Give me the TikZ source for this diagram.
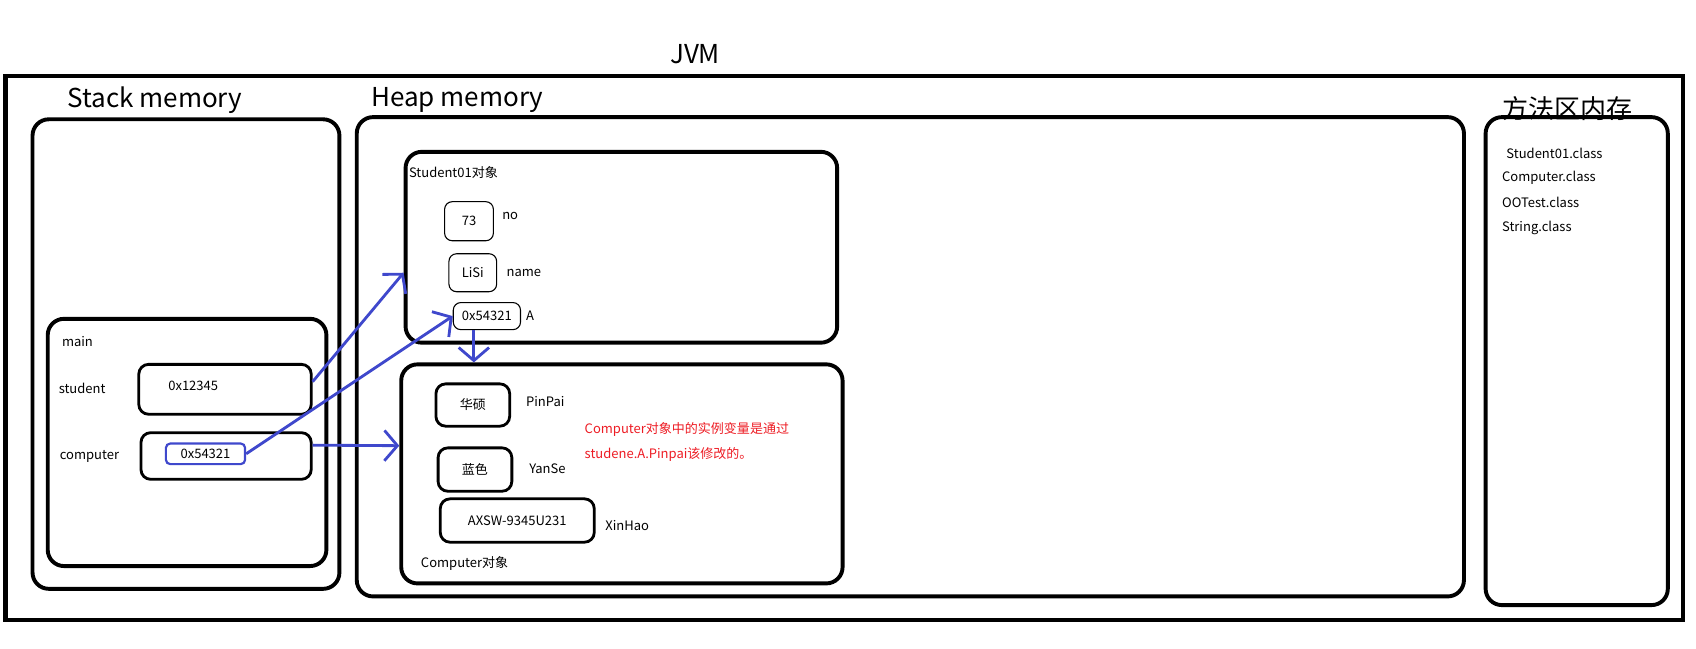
\documentclass[tikz,border=0pt]{standalone}
\usepackage{fontspec}
\setmainfont{Noto Sans CJK SC}
\usepackage{xcolor}
\usetikzlibrary{positioning,arrows.meta}
\definecolor{paintblue}{RGB}{63,72,204}
\definecolor{paintred}{RGB}{237,28,36}

\tikzset{
  jvmframe/.style={draw, line width=4pt, minimum width=1547pt, minimum height=502pt},
  area/.style={draw, line width=3.6pt, rounded corners=15pt, inner sep=0pt},
  cell/.style={draw, line width=1pt, rounded corners=7pt, inner sep=0pt, font=\fontsize{12}{14}\selectfont},
  fatcell/.style={draw, line width=2.6pt, rounded corners=9pt, inner sep=0pt, font=\fontsize{12}{14}\selectfont},
  txt/.style={anchor=west, inner sep=0pt, font=\fontsize{12}{14}\selectfont},
  title/.style={anchor=west, inner sep=0pt, font=\fontsize{24}{28}\selectfont},
  ref/.style={paintblue, line width=2.6pt, -{Straight Barb[length=12pt,width=28pt]}}
}

\begin{document}
\begin{tikzpicture}[x=1pt, y=-1pt]
\useasboundingbox (0,0) rectangle (1564,598);

\node[font=\fontsize{24}{28}\selectfont] (jvm) at (641,50) {JVM};
\node[jvmframe] (frame) at (778.5,321) {};

\node[title] (stacktitle) at (62,92) {Stack memory};
\node[title] (heaptitle) at (342,92) {Heap memory};
\node[title] (methodtitle) at (1385,100) {方法区内存};

\node[area, minimum width=283pt, minimum height=433pt] (stack) at (171.5,326.5) {};
\node[area, minimum width=1021pt, minimum height=442pt] (heap) at (839.5,329) {};
\node[area, minimum width=168pt, minimum height=450pt] (method) at (1454,333) {};

% method area
\node[txt] (cls1) at (1389,141) {Student01.class};
\node[txt] (cls2) at (1385,164) {Computer.class};
\node[txt] (cls3) at (1385,187) {OOTest.class};
\node[txt] (cls4) at (1385,210) {String.class};

% stack frame of main
\node[area, minimum width=257pt, minimum height=228pt] (main) at (172.5,408) {};
\node[txt] (maintxt) at (57,315) {main};
\node[txt] (stuvar) at (54,358) {student};
\node[txt] (compvar) at (55,421) {computer};
\node[fatcell, minimum width=159pt, minimum height=46pt] (sturef) at (207.5,359) {};
\node[txt] (stuaddr) at (155,356) {0x12345};
\node[fatcell, minimum width=157pt, minimum height=43pt] (compref) at (208.5,420.5) {};
\node[draw=paintblue, line width=2pt, rounded corners=4pt, minimum width=73pt, minimum height=19pt,
      inner sep=0pt, font=\fontsize{12}{14}\selectfont] (compaddr) at (189.5,418.5) {0x54321};

% Student01 object
\node[area, minimum width=398pt, minimum height=176pt] (stuobj) at (573,228) {};
\node[txt] (stuobjtxt) at (377,159) {Student01对象};
\node[cell, minimum width=45pt, minimum height=36pt] (valno) at (432.5,204) {73};
\node[txt] (no) at (463,199) {no};
\node[cell, minimum width=44pt, minimum height=35pt] (valname) at (436,251.5) {LiSi};
\node[txt] (name) at (467,252) {name};
\node[cell, minimum width=62pt, minimum height=25pt] (valA) at (449,291.5) {0x54321};
\node[txt] (A) at (485,291) {A};

% Computer object
\node[area, minimum width=407pt, minimum height=202pt] (compobj) at (573.5,437) {};
\node[fatcell, minimum width=68pt, minimum height=39pt] (valpp) at (436,373.5) {华硕};
\node[txt] (pp) at (485,370) {PinPai};
\node[fatcell, minimum width=68pt, minimum height=40pt] (valys) at (438,433) {蓝色};
\node[txt] (ys) at (488,432) {YanSe};
\node[fatcell, minimum width=142pt, minimum height=40pt] (valxh) at (477,480) {AXSW-9345U231};
\node[txt] (xh) at (558,485) {XinHao};
\node[txt] (compobjtxt) at (388,520) {Computer对象};
\node[txt, text=paintred] (note1) at (539,396) {Computer对象中的实例变量是通过};
\node[txt, text=paintred] (note2) at (539,419) {studene.A.Pinpai该修改的。};

% references
\draw[ref] ([yshift=7pt]sturef.east) -- (stuobj.west |- valname.center);
\draw[ref] (compaddr.east) -- (valA.west);
\draw[ref] ([yshift=10pt]compref.east) -- ([yshift=26pt]compobj.west);
\draw[ref] ([xshift=-12pt]valA.south) -- ([xshift=-12pt]valA.south |- compobj.north);

\end{tikzpicture}
\end{document}
